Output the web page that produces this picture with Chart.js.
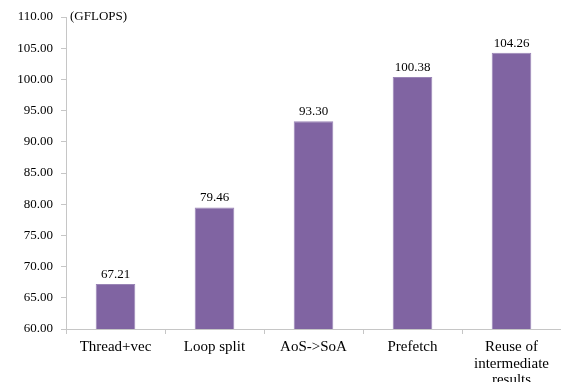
<!DOCTYPE html>
<html>
<head>
<meta charset="utf-8">
<script src="https://cdn.jsdelivr.net/npm/chart.js@4/dist/chart.umd.min.js"></script>
<style>
  html, body { margin: 0; padding: 0; background: #fff; }
  #wrap { width: 561px; height: 382px; position: relative; }
</style>
</head>
<body>
<div id="wrap"><canvas id="c"></canvas></div>
<script>
// Optimization steps and measured performance (GFLOPS)
const categories = ['Thread+vec', 'Loop split', 'AoS->SoA', 'Prefetch', ['Reuse of', 'intermediate', 'results']];
const gflops = [67.21, 79.46, 93.30, 100.38, 104.26];
const yMin = 60, yMax = 110, yStep = 5;
const unitLabel = '(GFLOPS)';

const FONT = 'Liberation Serif, "DejaVu Serif", serif';
const AXIS = '#c6c6c6';

// Value labels above each bar
const valueLabels = {
  id: 'valueLabels',
  afterDatasetsDraw(chart) {
    const ctx = chart.ctx;
    const meta = chart.getDatasetMeta(0);
    ctx.save();
    ctx.font = '13px ' + FONT;
    ctx.fillStyle = '#000';
    ctx.textAlign = 'center';
    ctx.textBaseline = 'bottom';
    meta.data.forEach((bar, i) => {
      ctx.fillText(gflops[i].toFixed(2), bar.x, bar.y - 3);
    });
    ctx.restore();
  }
};

// Unit caption at the top-left of the plot area
const unitCaption = {
  id: 'unitCaption',
  afterDraw(chart) {
    const ctx = chart.ctx;
    const a = chart.chartArea;
    ctx.save();
    ctx.font = '13px ' + FONT;
    ctx.fillStyle = '#000';
    ctx.textAlign = 'left';
    ctx.textBaseline = 'middle';
    ctx.fillText(unitLabel, a.left + 4, chart.scales.y.getPixelForValue(yMax));
    ctx.restore();
  }
};

new Chart(document.getElementById('c'), {
  type: 'bar',
  data: {
    labels: categories,
    datasets: [{
      data: gflops,
      backgroundColor: '#8064A2',
      borderColor: '#9A85B6',
      borderWidth: 1,
      barPercentage: 0.8,
      categoryPercentage: 0.5
    }]
  },
  options: {
    responsive: true,
    maintainAspectRatio: false,
    animation: false,
    layout: { padding: { top: 17, right: 0, left: 0, bottom: 0 } },
    plugins: { legend: { display: false }, tooltip: { enabled: false } },
    scales: {
      x: {
        grid: { offset: true, drawOnChartArea: false, drawTicks: true, tickLength: 5, color: AXIS },
        border: { color: AXIS },
        ticks: { font: { family: FONT, size: 15, lineHeight: 1.1 }, color: '#000', padding: 5, maxRotation: 0, autoSkip: false },
        afterFit(s) { s.height = 53; }
      },
      y: {
        min: yMin, max: yMax,
        grid: { drawOnChartArea: false, drawTicks: true, tickLength: 5, color: AXIS },
        border: { color: AXIS },
        ticks: { stepSize: yStep, font: { family: FONT, size: 13 }, color: '#000', padding: 8,
                 callback: v => v.toFixed(2) },
        afterFit(s) { s.width = 66; }
      }
    }
  },
  plugins: [valueLabels, unitCaption]
});
</script>
</body>
</html>
